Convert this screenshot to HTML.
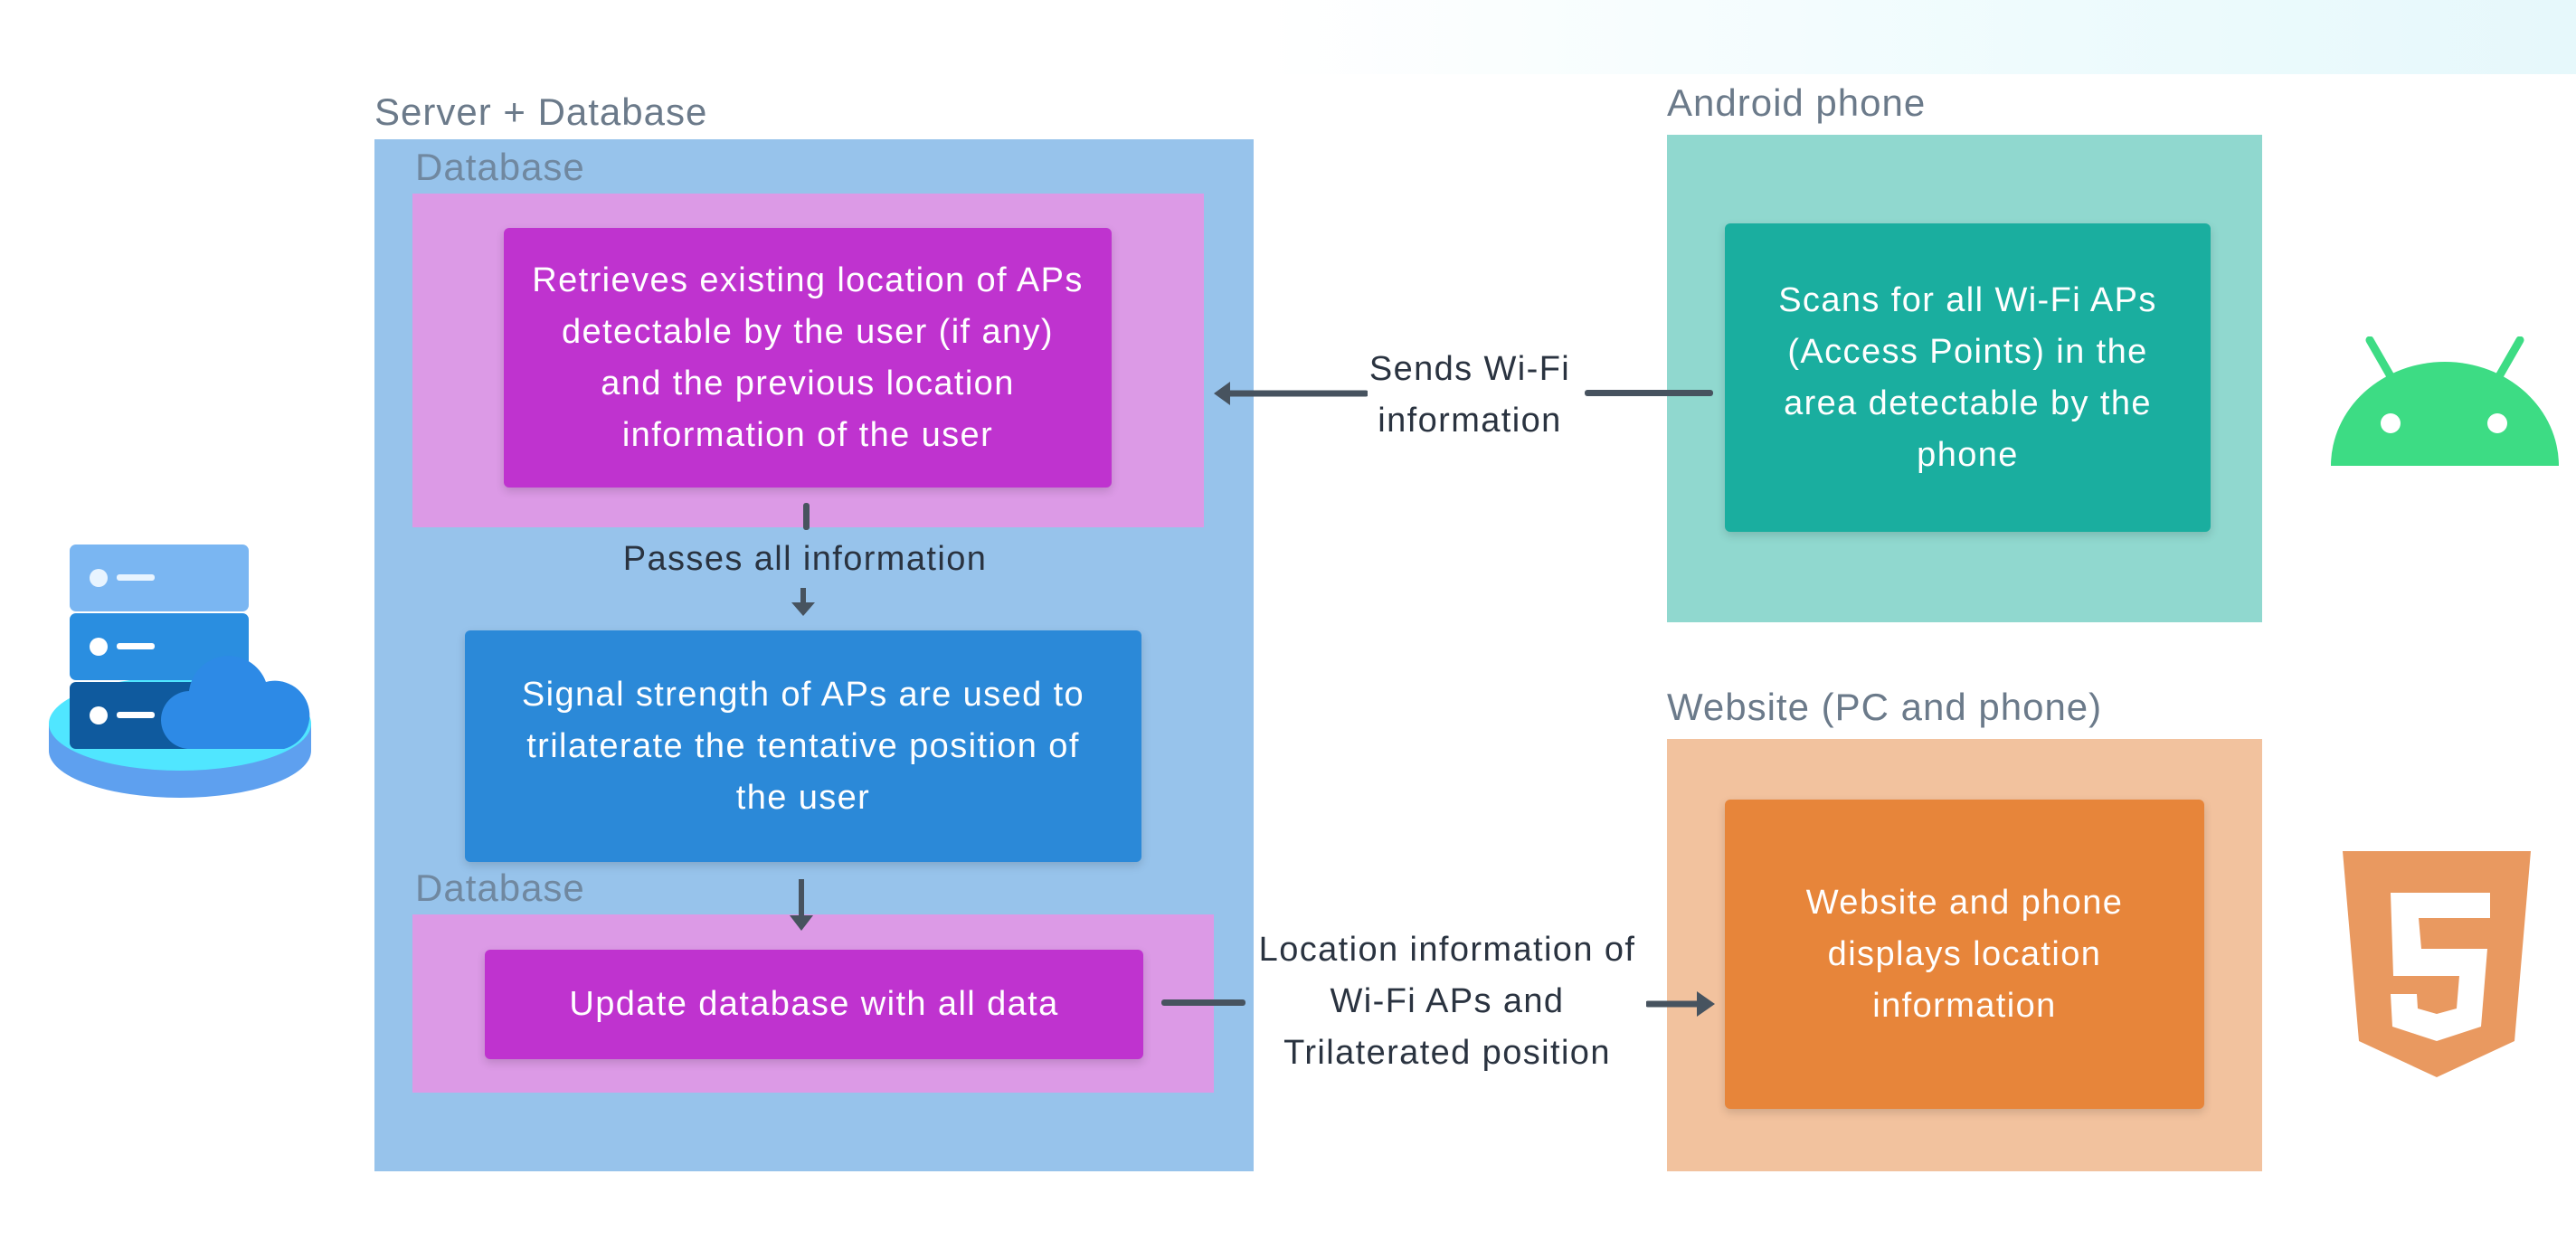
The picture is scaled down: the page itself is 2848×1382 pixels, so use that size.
<!DOCTYPE html>
<html><head><style>
*{margin:0;padding:0;box-sizing:border-box}
body{width:2848px;height:1382px;position:relative;background:#fff;font-family:"Liberation Sans",sans-serif;overflow:hidden}
.a{position:absolute}
.lbl{position:absolute;color:#6b7a8a;font-size:42px;letter-spacing:1px;white-space:nowrap}
.box{position:absolute;display:flex;align-items:center;justify-content:center;text-align:center;color:#fff;font-size:38px;letter-spacing:1.4px;line-height:57px;border-radius:6px;box-shadow:0 4px 10px rgba(0,0,0,.15)}
.t{position:absolute;color:#2a3340;font-size:38px;letter-spacing:1.4px;line-height:57px;text-align:center;white-space:nowrap}
</style></head><body>
<div class="a" style="left:1400px;top:0;width:1448px;height:82px;background:linear-gradient(90deg,#fff,#eefbfd 60%,#e6f8fb)"></div>

<div class="lbl" style="left:414px;top:100px">Server + Database</div>
<div class="a" style="left:414px;top:154px;width:972px;height:1141px;background:#97c3eb"></div>
<div class="lbl" style="left:459px;top:161px;color:#7088a0">Database</div>
<div class="a" style="left:456px;top:214px;width:875px;height:369px;background:#dc9ae6"></div>
<div class="box" style="left:557px;top:252px;width:672px;height:287px;background:#bf33cf">Retrieves existing location of APs<br>detectable by the user (if any)<br>and the previous location<br>information of the user</div>
<div class="a" style="left:888px;top:556px;width:7px;height:30px;background:#47535f;border-radius:3px"></div>
<div class="t" style="left:590px;top:590px;width:600px">Passes all information</div>
<svg class="a" style="left:870px;top:648px" width="36" height="36"><line x1="18" y1="2" x2="18" y2="24" stroke="#47535f" stroke-width="6"/><polygon points="5,18 31,18 18,33" fill="#47535f"/></svg>
<div class="box" style="left:514px;top:697px;width:748px;height:256px;background:#2b89d8">Signal strength of APs are used to<br>trilaterate the tentative position of<br>the user</div>
<div class="lbl" style="left:459px;top:958px;color:#7088a0">Database</div>
<div class="a" style="left:456px;top:1011px;width:886px;height:197px;background:#dc9ae6"></div>
<svg class="a" style="left:868px;top:970px" width="36" height="62"><line x1="18" y1="2" x2="18" y2="48" stroke="#47535f" stroke-width="6"/><polygon points="5,42 31,42 18,59" fill="#47535f"/></svg>
<div class="box" style="left:536px;top:1050px;width:728px;height:121px;background:#bf33cf">Update database with all data</div>

<div class="lbl" style="left:1843px;top:90px">Android phone</div>
<div class="a" style="left:1843px;top:149px;width:658px;height:539px;background:#90d8cf"></div>
<div class="box" style="left:1907px;top:247px;width:537px;height:341px;background:#1aae9f">Scans for all Wi-Fi APs<br>(Access Points) in the<br>area detectable by the<br>phone</div>

<div class="lbl" style="left:1843px;top:758px">Website (PC and phone)</div>
<div class="a" style="left:1843px;top:817px;width:658px;height:478px;background:#f2c29e"></div>
<div class="box" style="left:1907px;top:884px;width:530px;height:342px;background:#e7853a">Website and phone<br>displays location<br>information</div>

<!-- Sends Wi-Fi -->
<div class="a" style="left:1752px;top:431px;width:142px;height:7px;background:#47535f;border-radius:3px"></div>
<svg class="a" style="left:1340px;top:418px" width="172" height="34"><line x1="14" y1="17" x2="170" y2="17" stroke="#47535f" stroke-width="7" stroke-linecap="round"/><polygon points="2,17 20,4 20,30" fill="#47535f"/></svg>
<div class="t" style="left:1495px;top:380px;width:260px">Sends Wi-Fi<br>information</div>

<!-- Location -->
<div class="a" style="left:1284px;top:1105px;width:93px;height:7px;background:#47535f;border-radius:3px"></div>
<div class="t" style="left:1360px;top:1022px;width:480px">Location information of<br>Wi-Fi APs and<br>Trilaterated position</div>
<svg class="a" style="left:1820px;top:1090px" width="80" height="40"><line x1="2" y1="20" x2="58" y2="20" stroke="#47535f" stroke-width="7" stroke-linecap="round"/><polygon points="76,20 56,6 56,34" fill="#47535f"/></svg>

<!-- server icon -->
<svg class="a" style="left:51px;top:600px" width="300" height="290" viewBox="0 0 300 290">
<ellipse cx="148" cy="230" rx="145" ry="52" fill="#5ea0ef"/>
<rect x="3" y="200" width="290" height="30" fill="#5ea0ef"/>
<ellipse cx="148" cy="200" rx="145" ry="52" fill="#50e6ff"/>
<rect x="26" y="2" width="198" height="74" rx="7" fill="#7ab6f2"/>
<rect x="26" y="78" width="198" height="74" rx="7" fill="#2a8ee0"/>
<rect x="26" y="154" width="198" height="74" rx="7" fill="#0f5a9e"/>
<circle cx="58" cy="39" r="10" fill="#e8f4ff"/><rect x="78" y="35" width="42" height="7" rx="3" fill="#e8f4ff"/>
<circle cx="58" cy="115" r="10" fill="#fff"/><rect x="78" y="111" width="42" height="7" rx="3" fill="#fff"/>
<circle cx="58" cy="191" r="10" fill="#fff"/><rect x="78" y="187" width="42" height="7" rx="3" fill="#fff"/>
<path d="M160 228 a32 32 0 0 1 -2 -64 a44 44 0 0 1 85 -10 a36 36 0 0 1 20 74 z" fill="#2d8ae6"/>
</svg>

<!-- android icon -->
<svg class="a" style="left:2575px;top:372px" width="256" height="145" viewBox="0 0 256 145">
<line x1="45" y1="4" x2="68" y2="44" stroke="#3ddc84" stroke-width="9" stroke-linecap="round"/>
<line x1="211" y1="4" x2="188" y2="44" stroke="#3ddc84" stroke-width="9" stroke-linecap="round"/>
<path d="M2 143 A126 115 0 0 1 254 143 Z" fill="#3ddc84"/>
<circle cx="68" cy="96" r="11" fill="#fff"/><circle cx="186" cy="96" r="11" fill="#fff"/>
</svg>

<!-- html5 icon -->
<svg class="a" style="left:2588px;top:939px" width="212" height="254" viewBox="0 0 212 254">
<path d="M2 2 H210 L192 212 L106 252 L20 212 Z" fill="#e99960"/>
<path d="M55 48 H165 V76 H86 L89 110 H162 L155 196 L106 212 L57 196 L55 160 H84 L85 176 L106 182 L128 176 L131 140 H58 Z" fill="#fff"/>
</svg>
</body></html>
